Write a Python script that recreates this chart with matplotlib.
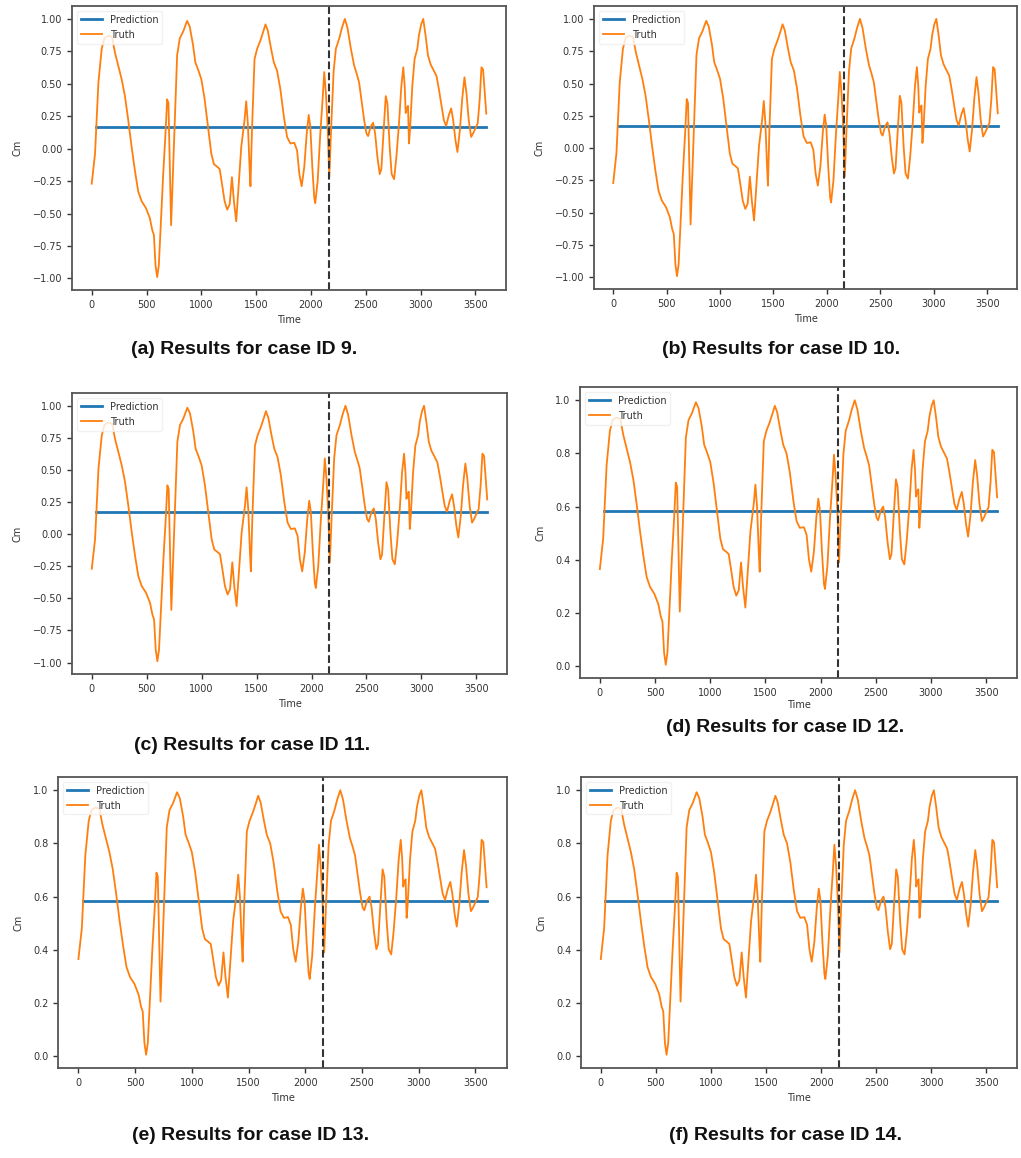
import numpy as np
import matplotlib
matplotlib.use("Agg")
import matplotlib.pyplot as plt
from matplotlib.ticker import FuncFormatter

# Time stamps of the measured moment-coefficient trace
time = [0, 30, 61, 91, 115, 150, 185, 212, 242, 273, 303, 333, 364, 394, 424,
        455, 494, 530, 552, 567, 582, 597, 612, 630, 652, 673, 688, 700, 712,
        724, 736, 758, 779, 803, 833, 870, 894, 924, 945, 970, 1000, 1030,
        1061, 1091, 1115, 1145, 1167, 1188, 1212, 1236, 1258, 1279, 1297,
        1318, 1339, 1364, 1394, 1409, 1424, 1440, 1448, 1461, 1485, 1509,
        1539, 1564, 1585, 1606, 1636, 1661, 1691, 1721, 1752, 1782, 1812,
        1848, 1873, 1894, 1915, 1939, 1961, 1979, 1994, 2012, 2030, 2039,
        2061, 2085, 2106, 2121, 2136, 2152, 2167, 2182, 2206, 2227, 2258,
        2282, 2309, 2333, 2364, 2394, 2418, 2439, 2464, 2485, 2506, 2521,
        2545, 2567, 2585, 2606, 2627, 2642, 2661, 2682, 2697, 2718, 2736,
        2758, 2779, 2803, 2824, 2842, 2855, 2864, 2873, 2885, 2894, 2903,
        2924, 2945, 2970, 2985, 3006, 3024, 3045, 3067, 3091, 3115, 3145,
        3167, 3191, 3212, 3233, 3258, 3279, 3297, 3318, 3336, 3358, 3379,
        3400, 3418, 3439, 3461, 3479, 3500, 3521, 3539, 3555, 3570, 3599]

# Ground-truth Cm on the symmetric [-1, 1] scale (cases 9-11)
truth_sym = [-0.27, -0.04, 0.51, 0.77, 0.85, 0.87, 0.86, 0.74, 0.64, 0.535,
             0.405, 0.22, 0.013, -0.17, -0.33, -0.405, -0.457, -0.535,
             -0.627, -0.665, -0.90, -0.99, -0.90, -0.59, -0.196, 0.117, 0.38,
             0.35, -0.14, -0.59, -0.30, 0.25, 0.72, 0.85, 0.90, 0.985, 0.94,
             0.80, 0.665, 0.61, 0.535, 0.38, 0.17, -0.04, -0.12, -0.14,
             -0.157, -0.27, -0.405, -0.47, -0.43, -0.22, -0.405, -0.56, -0.30,
             0.013, 0.22, 0.365, 0.196, -0.15, -0.29, 0.12, 0.69, 0.77, 0.835,
             0.90, 0.958, 0.91, 0.77, 0.665, 0.60, 0.457, 0.25, 0.09, 0.04,
             0.045, -0.013, -0.196, -0.29, -0.14, 0.117, 0.26, 0.17, -0.14,
             -0.38, -0.42, -0.25, 0.117, 0.38, 0.59, 0.43, 0.17, -0.22, 0.117,
             0.59, 0.77, 0.85, 0.93, 1.0, 0.93, 0.77, 0.64, 0.575, 0.51, 0.35,
             0.22, 0.117, 0.097, 0.17, 0.20, 0.117, -0.065, -0.196, -0.157,
             0.117, 0.405, 0.35, 0.013, -0.196, -0.235, -0.065, 0.196, 0.48,
             0.627, 0.48, 0.275, 0.31, 0.33, 0.04, 0.14, 0.48, 0.69, 0.77,
             0.875, 0.96, 1.0, 0.875, 0.72, 0.65, 0.61, 0.56, 0.457, 0.33,
             0.22, 0.175, 0.26, 0.31, 0.22, 0.065, -0.026, 0.14, 0.38, 0.55,
             0.43, 0.22, 0.09, 0.117, 0.157, 0.196, 0.38, 0.627, 0.61, 0.27]

# Cases 12-14 report the same trace on a [0, 1] scale
truth_unit = list((np.array(truth_sym) + 1.0) / 2.0)

# Constant model output for each scale, and where it starts
pred_sym = 0.17
pred_unit = 0.585
pred_start = 40
train_split = 2160

case_ids = [9, 10, 11, 12, 13, 14]
case_letters = ["a", "b", "c", "d", "e", "f"]
case_scale = ["sym", "sym", "sym", "unit", "unit", "unit"]

W, H = 1021, 1158
fig = plt.figure(figsize=(W / 100, H / 100), dpi=100)

# Axes boxes in pixels: (left, top, right, bottom)
boxes = [(72, 6, 506, 290), (594, 6, 1017, 289),
         (72, 393, 507, 674), (580, 387, 1017, 678),
         (58, 777, 507, 1068), (581, 777, 1017, 1068)]
# Caption centres in pixels
captions = [(244, 350), (781, 350), (252, 746), (785, 727),
            (251, 1136), (785, 1136)]
xlabel_pads = [4, 4, 4, 2, 4, 4]


def fmt2(v, pos):
    return f"{v:.2f}".replace("-", "\u2212")


def fmt1(v, pos):
    return f"{v:.1f}".replace("-", "\u2212")


tick_color = "#333333"
for i, cid in enumerate(case_ids):
    l, t, r, b = boxes[i]
    ax = fig.add_axes([l / W, 1 - b / H, (r - l) / W, (b - t) / H])
    if case_scale[i] == "sym":
        truth, pred = truth_sym, pred_sym
    else:
        truth, pred = truth_unit, pred_unit
    pred_time = [pred_start, time[-1]]
    ax.plot(pred_time, [pred, pred], color="#1f77b4", lw=2.0,
            label="Prediction")
    ax.plot(time, truth, color="#ff7f0e", lw=1.3, label="Truth")
    ax.axvline(train_split, color="#333333", lw=1.5, ls="--")
    ax.set_xticks([0, 500, 1000, 1500, 2000, 2500, 3000, 3500])
    if case_scale[i] == "sym":
        ax.set_yticks([-1.0, -0.75, -0.5, -0.25, 0.0, 0.25, 0.5, 0.75, 1.0])
        ax.yaxis.set_major_formatter(FuncFormatter(fmt2))
    else:
        ax.set_yticks([0.0, 0.2, 0.4, 0.6, 0.8, 1.0])
        ax.yaxis.set_major_formatter(FuncFormatter(fmt1))
    ax.tick_params(labelsize=7, colors=tick_color, length=3.5, width=1.0)
    for sp in ax.spines.values():
        sp.set_color("#555555")
        sp.set_linewidth(1.3)
    ax.set_xlabel("Time", fontsize=7, color=tick_color,
                  labelpad=xlabel_pads[i])
    ax.set_ylabel("Cm", fontsize=7, color=tick_color, labelpad=7)
    leg = ax.legend(loc="upper left", fontsize=7, frameon=True,
                    handlelength=2.2, borderpad=0.4, labelspacing=0.5)
    leg.get_frame().set_edgecolor("#eeeeee")
    for txt in leg.get_texts():
        txt.set_color(tick_color)
    cx, cy = captions[i]
    fig.text(cx / W, 1 - cy / H,
             f"({case_letters[i]}) Results for case ID {cid}.",
             ha="center", va="center", fontsize=14, fontweight="bold",
             family="Liberation Sans", color="#111111")

fig.savefig("out.png", dpi=100)
